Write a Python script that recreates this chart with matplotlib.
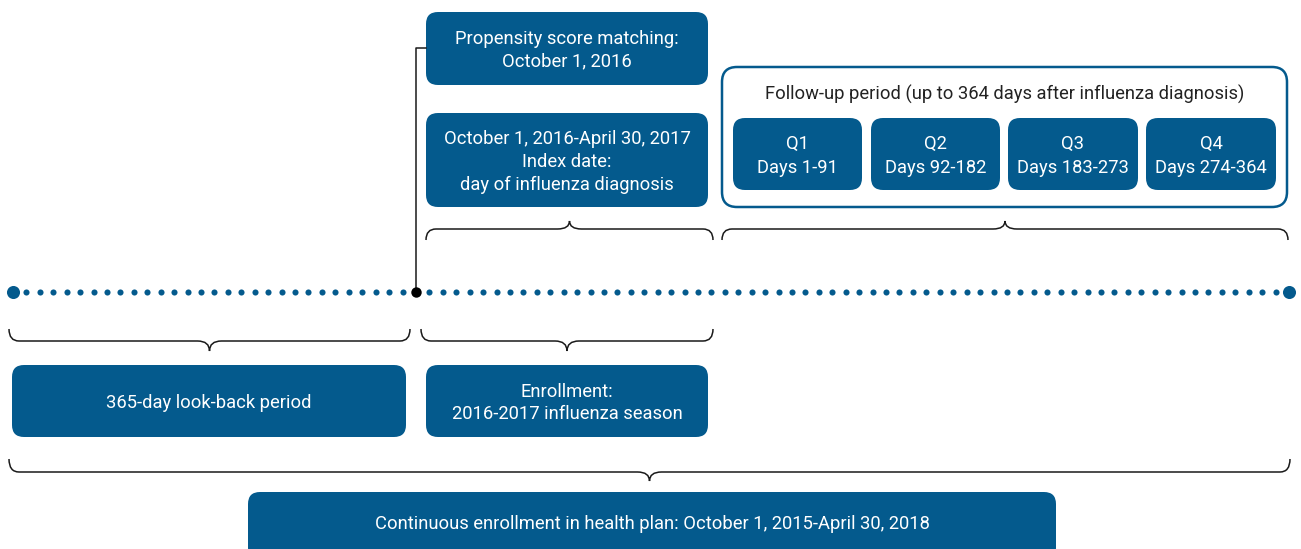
import numpy as np
import matplotlib
matplotlib.use("Agg")
import matplotlib.pyplot as plt
from matplotlib.patches import FancyBboxPatch, PathPatch
from matplotlib.path import Path

W, H = 1301, 549
BLUE = "#045A8D"
FONT = "Roboto"
FS = 13.2
LS = 1.32
DY = 2

# ---- content ----
top_boxes = ["Propensity score matching:\nOctober 1, 2016",
             "October 1, 2016-April 30, 2017\nIndex date:\nday of influenza diagnosis"]
followup_title = "Follow-up period (up to 364 days after influenza diagnosis)"
quarters = ["Q1", "Q2", "Q3", "Q4"]
quarter_days = ["Days 1-91", "Days 92-182", "Days 183-273", "Days 274-364"]
bottom_boxes = ["365-day look-back period", "Enrollment:\n2016-2017 influenza season"]
continuous_label = "Continuous enrollment in health plan: October 1, 2015-April 30, 2018"

# ---- layout (pixel units) ----
top_box_rects = [(426, 12, 708, 85), (426, 113, 708, 207)]
followup_rect = (722, 67, 1287, 207)
quarter_rects = [(733, 118, 862, 190), (871, 118, 1000, 190),
                 (1008, 118, 1138, 190), (1146, 118, 1276, 190)]
bottom_box_rects = [(12, 365, 406, 437), (426, 365, 708, 437)]
continuous_rect = (248, 492, 1056, 560)
line_y = 292
line_x0, line_x1 = 13, 1289
n_dots = 96
event_x = 416
braces_up = [(426, 713, 240, 229, 221), (722, 1288, 240, 229, 221)]
braces_down = [(9, 410, 329, 341, 351), (421, 713, 329, 341, 351), (9, 1290, 459, 472, 481)]

fig = plt.figure(figsize=(W / 100, H / 100), dpi=100)
ax = fig.add_axes([0, 0, 1, 1])
ax.set_xlim(0, W)
ax.set_ylim(H, 0)
ax.axis("off")


def rbox(rect, r=12, fc=BLUE, ec="none", lw=0, z=2):
    x0, y0, x1, y1 = rect
    p = FancyBboxPatch((x0, y0), x1 - x0, y1 - y0,
                       boxstyle=f"round,pad=0,rounding_size={r}",
                       fc=fc, ec=ec, lw=lw, zorder=z)
    ax.add_patch(p)


def label(rect, text, color="white", size=FS, ls=LS):
    x0, y0, x1, y1 = rect
    ax.text((x0 + x1) / 2, (y0 + y1) / 2 + DY, text, color=color, fontsize=size,
            ha="center", va="center", family=FONT, linespacing=ls, zorder=5)


def brace(x0, x1, yend, yh, ytip):
    xm = (x0 + x1) / 2
    r = 10
    t = 12
    verts = [(x0, yend), (x0, yh), (x0 + r, yh),
             (xm - t, yh),
             (xm, yh), (xm, ytip),
             (xm, yh), (xm + t, yh),
             (x1 - r, yh),
             (x1, yh), (x1, yend)]
    codes = [Path.MOVETO, Path.CURVE3, Path.CURVE3,
             Path.LINETO,
             Path.CURVE3, Path.CURVE3,
             Path.CURVE3, Path.CURVE3,
             Path.LINETO,
             Path.CURVE3, Path.CURVE3]
    ax.add_patch(PathPatch(Path(verts, codes), fc="none", ec="#1a1a1a", lw=1.1, zorder=3))


# boxes
for rect, txt in zip(top_box_rects, top_boxes):
    rbox(rect)
    label(rect, txt)
rbox(followup_rect, r=15, fc="white", ec=BLUE, lw=1.8, z=1)
ax.text((followup_rect[0] + followup_rect[2]) / 2, 92 + DY, followup_title, color="#222222",
        fontsize=FS, ha="center", va="center", family=FONT, zorder=5)
for rect, q, d in zip(quarter_rects, quarters, quarter_days):
    rbox(rect)
    label(rect, f"{q}\n{d}", ls=1.42)
for rect, txt in zip(bottom_box_rects, bottom_boxes):
    rbox(rect)
    label(rect, txt)
rbox(continuous_rect)
ax.text((continuous_rect[0] + continuous_rect[2]) / 2, 523 + 1, continuous_label,
        color="white", fontsize=FS, ha="center", va="center", family=FONT, zorder=5)

# timeline
xs = np.linspace(line_x0, line_x1, n_dots)
ax.plot(xs[1:-1], np.full(n_dots - 2, line_y), "o", color=BLUE, ms=4.4, mec="none", zorder=3)
ax.plot([line_x0, line_x1], [line_y, line_y], "o", color=BLUE, ms=9.4, mec="none", zorder=3)
ax.plot([event_x, event_x, top_box_rects[0][0]], [line_y, 48, 48], color="#1a1a1a", lw=1.1, zorder=3)
ax.plot([event_x], [line_y], "o", color="black", ms=7.5, mec="none", zorder=4)

for b in braces_up + braces_down:
    brace(*b)

fig.savefig("out.png", dpi=100)
